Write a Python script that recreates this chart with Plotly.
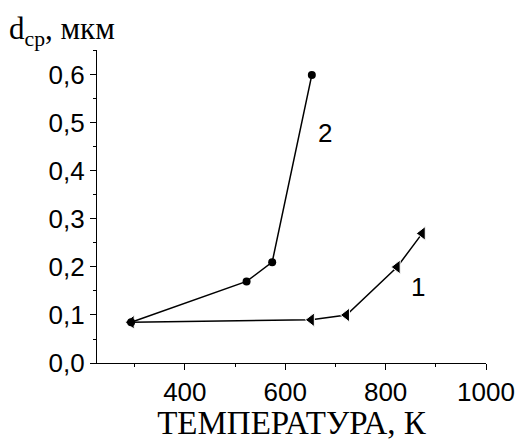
import plotly.graph_objects as go

# Series 1: triangles
t1 = [293, 652, 722, 823, 873]
d1 = [0.085, 0.09, 0.10, 0.20, 0.27]
# Series 2: circles
t2 = [293, 523, 574, 653]
d2 = [0.085, 0.17, 0.21, 0.60]

x_ticks = [400, 600, 800, 1000]
y_ticks = [0.0, 0.1, 0.2, 0.3, 0.4, 0.5, 0.6]

fig = go.Figure()
fig.add_trace(go.Scatter(
    x=t1, y=d1, mode="lines+markers",
    line=dict(color="black", width=1.5),
    marker=dict(symbol="triangle-left", size=12, color="black",
                line=dict(color="white", width=1)),
    showlegend=False,
))
fig.add_trace(go.Scatter(
    x=t2, y=d2, mode="lines+markers",
    line=dict(color="black", width=1.5),
    marker=dict(symbol="circle", size=8, color="black"),
    showlegend=False,
))

axis_font = dict(family="Liberation Sans, Arial", size=26, color="black")

fig.update_layout(
    width=518, height=441,
    margin=dict(l=97, r=32, t=50, b=78),
    paper_bgcolor="white", plot_bgcolor="white",
    separators=", ",
    xaxis=dict(
        range=[225, 1000], tickvals=x_ticks, automargin=False,
        showline=True, linecolor="black", linewidth=1.3,
        ticks="outside", ticklen=6, tickwidth=1.3, tickcolor="black",
        minor=dict(ticks="outside", ticklen=3, tickwidth=1.2, tickcolor="black",
                   dtick=100, showgrid=False),
        showgrid=False, zeroline=False,
        tickfont=axis_font,
        title=dict(text="ТЕМПЕРАТУРА, К",
                   font=dict(family="Liberation Serif, Times New Roman", size=33, color="black"),
                   standoff=13),
    ),
    yaxis=dict(
        range=[0, 0.652], tickvals=y_ticks, tickformat=".1f", automargin=False,
        showline=True, linecolor="black", linewidth=1.3,
        ticks="outside", ticklen=6, tickwidth=1.3, tickcolor="black",
        minor=dict(ticks="outside", ticklen=3, tickwidth=1.2, tickcolor="black",
                   dtick=0.05, showgrid=False),
        showgrid=False, zeroline=False,
        tickfont=axis_font,
    ),
    annotations=[
        dict(text="d<sub>cp</sub>, мкм", xref="paper", yref="paper",
             x=-90 / 389, y=1 + 41 / 313, xanchor="left", yanchor="top",
             showarrow=False,
             font=dict(family="Liberation Serif, Times New Roman", size=31, color="black")),
        dict(text="2", x=680, y=0.48, xref="x", yref="y", showarrow=False,
             font=axis_font),
        dict(text="1", x=864, y=0.158, xref="x", yref="y", showarrow=False,
             font=axis_font),
    ],
)

fig.write_html("out.html")
